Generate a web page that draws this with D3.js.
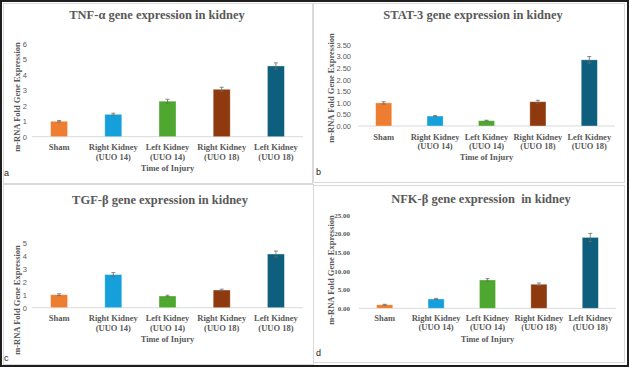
<!DOCTYPE html>
<html><head><meta charset="utf-8">
<script src="https://cdn.jsdelivr.net/npm/d3@7"></script>
<style>html,body{margin:0;padding:0;background:#fff;}svg{display:block;}</style>
</head><body>
<svg id="chart" width="629" height="367"></svg>
<script>
// ---- data ----
const categories = [["Sham"], ["Right Kidney", "(UUO 14)"], ["Left Kidney", "(UUO 14)"], ["Right Kidney", "(UUO 18)"], ["Left Kidney", "(UUO 18)"]];
const barColors = ["#ED7D31", "#15A0DB", "#4EA72E", "#8E3A0E", "#0E5E7E"];

const tnfValues = [1.0, 1.45, 2.3, 3.07, 4.58];
const tnfErrors = [0.05, 0.07, 0.12, 0.13, 0.2];
const tnfTicks = [0, 1, 2, 3, 4, 5, 6];

const stat3Values = [1.0, 0.43, 0.23, 1.05, 2.86];
const stat3Errors = [0.05, 0.02, 0.02, 0.06, 0.14];
const stat3Ticks = [0, 0.5, 1.0, 1.5, 2.0, 2.5, 3.0, 3.5];

const tgfValues = [1.0, 2.55, 0.9, 1.36, 4.13];
const tgfErrors = [0.07, 0.15, 0.06, 0.07, 0.23];
const tgfTicks = [0, 1, 2, 3, 4, 5];

const nfkValues = [0.95, 2.5, 7.6, 6.45, 19.0];
const nfkErrors = [0.12, 0.15, 0.35, 0.35, 1.07];
const nfkTicks = [0, 5, 10, 15, 20, 25];

const titles = ["TNF-\u03b1 gene expression in kidney", "STAT-3 gene expression in kidney",
                "TGF-\u03b2 gene expression in kidney", "NFK-\u03b2 gene expression\u00a0 in kidney"];
const yAxisTitle = "m-RNA Fold Gene Expression";
const xAxisTitle = "Time of Injury";
const panelLetters = ["a", "b", "c", "d"];

// ---- layout ----
const svg = d3.select("#chart");
const SERIF = "'Liberation Serif','Times New Roman',serif";
const SANS = "'Liberation Sans',Arial,sans-serif";
const TXT = "#595959";

// outer frame
svg.append("rect").attr("x", 1).attr("y", 1).attr("width", 627).attr("height", 365)
  .attr("fill", "none").attr("stroke", "#1e1e1e").attr("stroke-width", 2);

const panels = [
  {box:[3,3,309,180], values:tnfValues, errors:tnfErrors, ticks:tnfTicks, fmt:d3.format("d"), tickFont:SANS, tickBold:false,
   left:32, right:303, y0:136.7, yTop:44, tickX:27, title:[157,15], yTitle:[17,97], xlab:[147,156.7], xTitle:168.5, letter:[4,173]},
  {box:[313,3,311,179], values:stat3Values, errors:stat3Errors, ticks:stat3Ticks, fmt:d3.format(".2f"), tickFont:SANS, tickBold:false,
   left:358, right:615, y0:126, yTop:45, tickX:351, title:[473,15], yTitle:[331,88], xlab:[136.7,145.7], xTitle:157.3, letter:[316,172]},
  {box:[3,184,310,180], values:tgfValues, errors:tgfErrors, ticks:tgfTicks, fmt:d3.format("d"), tickFont:SANS, tickBold:false,
   left:32, right:303, y0:307.7, yTop:242.7, tickX:27, title:[160,200], yTitle:[17,300], xlab:[317.7,327.7], xTitle:339, letter:[4,358]},
  {box:[313,185,311,177], values:nfkValues, errors:nfkErrors, ticks:nfkTicks, fmt:d3.format(".2f"), tickFont:SERIF, tickBold:true,
   left:359, right:616, y0:308.3, yTop:215, tickX:350, title:[481,199], yTitle:[331,270], xlab:[318.3,327.3], xTitle:339.3, letter:[316,353]}
];

panels.forEach((p, i) => {
  const g = svg.append("g");
  // panel border
  g.append("rect").attr("x", p.box[0] + 0.5).attr("y", p.box[1] + 0.5)
    .attr("width", p.box[2]).attr("height", p.box[3])
    .attr("fill", "none").attr("stroke", "#d9d9d9").attr("stroke-width", 1);

  const x = d3.scaleBand().domain(d3.range(categories.length)).range([p.left, p.right])
    .paddingInner(0.686).paddingOuter(0.343);
  const y = d3.scaleLinear().domain([0, d3.max(p.ticks)]).range([p.y0, p.yTop]);

  // y axis ticks
  const ax = g.append("g").attr("transform", `translate(${p.tickX},0)`)
    .call(d3.axisLeft(y).tickValues(p.ticks).tickFormat(p.fmt).tickSize(0).tickPadding(0));
  ax.select(".domain").remove();
  ax.selectAll("text").attr("font-family", p.tickFont).attr("font-size", p.tickBold ? 7 : 7.5)
    .attr("font-weight", p.tickBold ? "bold" : "normal").attr("fill", TXT);

  // baseline
  g.append("line").attr("x1", p.left).attr("x2", p.right).attr("y1", y(0)).attr("y2", y(0))
    .attr("stroke", "#d9d9d9").attr("stroke-width", 1);

  // bars
  g.selectAll("rect.bar").data(p.values).join("rect").attr("class", "bar")
    .attr("x", (d, j) => x(j)).attr("width", x.bandwidth())
    .attr("y", d => y(d)).attr("height", d => y(0) - y(d))
    .attr("fill", (d, j) => barColors[j])
    .attr("stroke", "rgba(255,255,255,0.45)").attr("stroke-width", 0.8);

  // error bars
  const eb = g.selectAll("g.err").data(p.values).join("g").attr("class", "err");
  eb.append("line")
    .attr("x1", (d, j) => x(j) + x.bandwidth() / 2).attr("x2", (d, j) => x(j) + x.bandwidth() / 2)
    .attr("y1", (d, j) => y(d + p.errors[j])).attr("y2", (d, j) => y(d - p.errors[j]))
    .attr("stroke", "#6b6b6b").attr("stroke-width", 0.8);
  [1, -1].forEach(s => {
    eb.append("line")
      .attr("x1", (d, j) => x(j) + x.bandwidth() / 2 - 2).attr("x2", (d, j) => x(j) + x.bandwidth() / 2 + 2)
      .attr("y1", (d, j) => y(d + s * p.errors[j])).attr("y2", (d, j) => y(d + s * p.errors[j]))
      .attr("stroke", "#6b6b6b").attr("stroke-width", 0.8);
  });

  // category labels
  categories.forEach((lines, j) => {
    lines.forEach((t, k) => {
      g.append("text").attr("x", x(j) + x.bandwidth() / 2).attr("y", p.xlab[k]).attr("dy", "0.35em")
        .attr("text-anchor", "middle").attr("font-family", SERIF).attr("font-weight", "bold")
        .attr("font-size", 8.5).attr("fill", TXT).text(t);
    });
  });

  // titles
  g.append("text").attr("x", p.title[0]).attr("y", p.title[1]).attr("dy", "0.35em")
    .attr("text-anchor", "middle").attr("font-family", SERIF).attr("font-weight", "bold")
    .attr("font-size", 12.5).attr("fill", TXT).text(titles[i]);
  g.append("text").attr("x", (p.left + p.right) / 2).attr("y", p.xTitle).attr("dy", "0.35em")
    .attr("text-anchor", "middle").attr("font-family", SERIF).attr("font-weight", "bold")
    .attr("font-size", 8.5).attr("fill", TXT).text(xAxisTitle);
  g.append("text").attr("transform", `translate(${p.yTitle[0]},${p.yTitle[1]}) rotate(-90)`).attr("dy", "0.35em")
    .attr("text-anchor", "middle").attr("font-family", SERIF).attr("font-weight", "bold")
    .attr("font-size", 8.5).attr("fill", TXT).text(yAxisTitle);

  // panel letter
  g.append("text").attr("x", p.letter[0]).attr("y", p.letter[1]).attr("dy", "0.35em")
    .attr("font-family", SANS).attr("font-size", 9).attr("fill", "#222").text(panelLetters[i]);
});
</script>
</body></html>
